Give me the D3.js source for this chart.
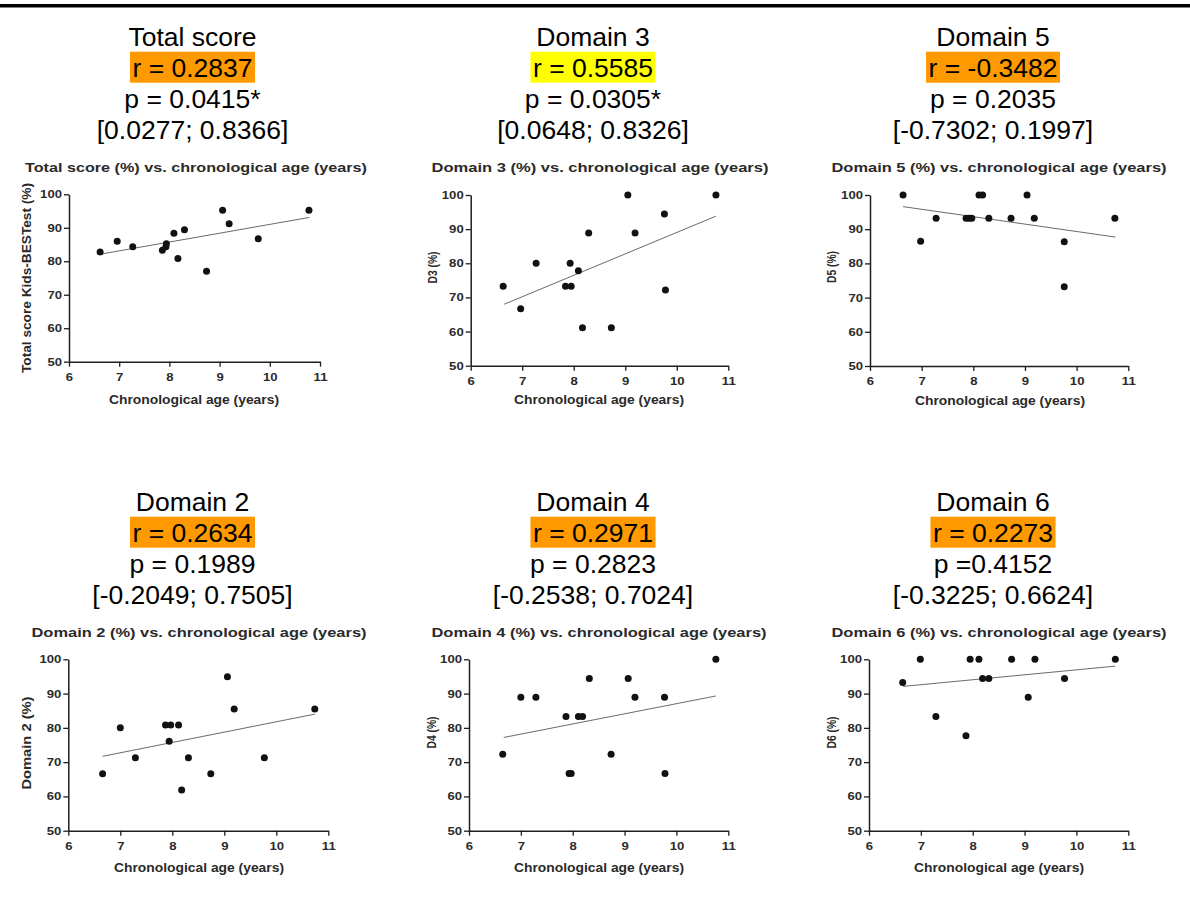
<!DOCTYPE html>
<html>
<head>
<meta charset="utf-8">
<script src="https://cdn.jsdelivr.net/npm/d3@7"></script>
<style>
  html, body { margin: 0; padding: 0; background: #fff; }
  svg { display: block; }
</style>
</head>
<body>
<svg id="chart" width="1190" height="897"></svg>
<script>
// ---------------- DATA ----------------
const xTicks = [6, 7, 8, 9, 10, 11];
const yTicks = [50, 60, 70, 80, 90, 100];
const xLabel = "Chronological age (years)";

const panelNames = ["Total score", "Domain 3", "Domain 5", "Domain 2", "Domain 4", "Domain 6"];
const rTexts = ["r = 0.2837", "r = 0.5585", "r = -0.3482", "r = 0.2634", "r = 0.2971", "r = 0.2273"];
const pTexts = ["p = 0.0415*", "p = 0.0305*", "p = 0.2035", "p = 0.1989", "p = 0.2823", "p =0.4152"];
const ciTexts = ["[0.0277; 0.8366]", "[0.0648; 0.8326]", "[-0.7302; 0.1997]",
                 "[-0.2049; 0.7505]", "[-0.2538; 0.7024]", "[-0.3225; 0.6624]"];
const highlightKinds = ["orange", "yellow", "orange", "orange", "orange", "orange"];
const plotTitles = ["Total score (%) vs. chronological age (years)",
                    "Domain 3 (%) vs. chronological age (years)",
                    "Domain 5 (%) vs. chronological age (years)",
                    "Domain 2 (%) vs. chronological age (years)",
                    "Domain 4 (%) vs. chronological age (years)",
                    "Domain 6 (%) vs. chronological age (years)"];
const yLabels = ["Total score Kids-BESTest (%)", "D3 (%)", "D5 (%)", "Domain 2 (%)", "D4 (%)", "D6 (%)"];

const totalAges = [6.62, 6.96, 7.27, 7.86, 7.93, 7.94, 8.09, 8.17, 8.30, 8.74, 9.06, 9.19, 9.77, 10.78];
const totalVals = [82.8, 86.0, 84.3, 83.3, 84.3, 85.2, 88.4, 80.8, 89.4, 77.0, 95.2, 91.2, 86.7, 95.2];
const totalFit  = [[6.62, 82.1], [10.79, 93.1]];

const d3Ages = [6.63, 6.97, 7.27, 7.84, 7.95, 7.93, 8.09, 8.17, 8.29, 8.73, 9.05, 9.19, 9.76, 9.78, 10.76];
const d3Vals = [73.3, 66.7, 80.0, 73.3, 73.3, 80.0, 77.8, 61.1, 88.9, 61.1, 100, 88.9, 94.4, 72.2, 100];
const d3Fit  = [[6.65, 68.0], [10.76, 93.8]];

const d5Ages = [6.64, 6.98, 7.28, 7.86, 7.92, 7.97, 8.11, 8.18, 8.30, 8.73, 9.04, 9.18, 9.76, 9.76, 10.74];
const d5Vals = [100, 86.5, 93.2, 93.2, 93.2, 93.2, 100, 100, 93.2, 93.2, 100, 93.2, 86.3, 73.2, 93.2];
const d5Fit  = [[6.64, 96.6], [10.75, 87.7]];

const d2Ages = [6.66, 7.00, 7.29, 7.87, 7.97, 7.94, 8.12, 8.18, 8.31, 8.74, 9.06, 9.19, 9.77, 10.74];
const d2Vals = [66.6, 80.0, 71.3, 80.8, 80.8, 76.1, 80.8, 61.9, 71.3, 66.6, 94.9, 85.5, 71.3, 85.5];
const d2Fit  = [[6.66, 71.7], [10.74, 84.0]];

const d4Ages = [6.65, 7.00, 7.29, 7.87, 7.93, 7.97, 8.11, 8.19, 8.32, 8.74, 9.07, 9.20, 9.77, 9.78, 10.76];
const d4Vals = [72.3, 88.9, 88.9, 83.3, 66.7, 66.7, 83.3, 83.3, 94.4, 72.3, 94.4, 88.9, 88.9, 66.7, 100];
const d4Fit  = [[6.67, 77.2], [10.76, 89.3]];

const d6Ages = [6.65, 6.99, 7.29, 7.87, 7.95, 8.12, 8.19, 8.31, 8.75, 9.07, 9.20, 9.77, 10.75];
const d6Vals = [93.2, 100, 83.3, 77.7, 100, 100, 94.4, 94.4, 100, 88.9, 100, 94.4, 100];
const d6Fit  = [[6.66, 92.1], [10.75, 98.0]];

const agesList = [totalAges, d3Ages, d5Ages, d2Ages, d4Ages, d6Ages];
const valsList = [totalVals, d3Vals, d5Vals, d2Vals, d4Vals, d6Vals];
const fitList  = [totalFit, d3Fit, d5Fit, d2Fit, d4Fit, d6Fit];

// ---------------- LAYOUT ----------------
const highlightColors = { orange: "#FF9900", yellow: "#FFFF00" };
const headerCX = [192.5, 593, 993, 192.5, 593, 993];
const headerTop = [45.7, 45.7, 45.7, 510.7, 510.7, 510.7]; // first baseline
const lineGap = 31;
// frames: x0 (age 6), x1 (age 11), yTop (100), yBot (50)
const frames = [
  { x0: 69,    x1: 320,   yT: 194.3, yB: 361.7 },
  { x0: 470.7, x1: 728.3, yT: 195,   yB: 365.7 },
  { x0: 870,   x1: 1128.3,yT: 195,   yB: 366 },
  { x0: 68.3,  x1: 328.3, yT: 659.3, yB: 830.7 },
  { x0: 469,   x1: 728.3, yT: 659.3, yB: 830.7 },
  { x0: 869,   x1: 1128.3,yT: 659.3, yB: 830.7 }
];
const titlePos = [ [196, 171.5, 342], [600, 171.5, 337], [999, 171.5, 335],
                   [199, 636.5, 335], [599, 636.5, 335], [999, 636.5, 335] ];
const xLabPos  = [ [194, 403.5], [599, 403.5], [1000, 405], [199, 872], [599, 872], [999, 872] ];
const yLabPos  = [ [27, 278, 190], [433, 267.5, 32], [832, 267, 32],
                   [27, 743, 93], [432, 732.5, 32], [832, 732.5, 32] ];

const FONT = "'Liberation Sans', Arial, Helvetica, sans-serif";
const svg = d3.select("#chart");

// top rule
svg.append("rect").attr("x", 0).attr("y", 4).attr("width", 1190).attr("height", 3.5).attr("fill", "#000");

panelNames.forEach((name, i) => {
  // ---------- header block ----------
  const hg = svg.append("g").attr("transform", `translate(${headerCX[i]},0)`)
    .style("font-family", FONT).style("font-size", "26.5px").attr("fill", "#000");
  const lines = [name, rTexts[i], pTexts[i], ciTexts[i]];
  lines.forEach((t, j) => {
    const y = headerTop[i] + j * lineGap;
    if (j === 1) {
      const tmp = hg.append("text").attr("text-anchor", "middle").attr("y", y).text(t);
      const w = tmp.node().getComputedTextLength();
      tmp.remove();
      hg.append("rect").attr("x", -w / 2 - 2.5).attr("y", y - 25).attr("width", w + 5).attr("height", 31)
        .attr("fill", highlightColors[highlightKinds[i]]);
    }
    hg.append("text").attr("text-anchor", "middle").attr("y", y).text(t);
  });

  // ---------- plot ----------
  const f = frames[i];
  const x = d3.scaleLinear().domain([6, 11]).range([f.x0, f.x1]);
  const y = d3.scaleLinear().domain([50, 100]).range([f.yB, f.yT]);
  const g = svg.append("g").style("font-family", FONT);
  const ink = "#1e1e1e";

  // title
  const [tcx, tby, tlen] = titlePos[i];
  g.append("text").attr("x", tcx - tlen / 2).attr("y", tby)
    .attr("textLength", tlen).attr("lengthAdjust", "spacingAndGlyphs")
    .style("font-size", "13px").style("font-weight", "bold").attr("fill", "#2a2a2a")
    .text(plotTitles[i]);

  // x label
  const [xcx, xby] = xLabPos[i];
  g.append("text").attr("x", xcx - 85).attr("y", xby)
    .attr("textLength", 170).attr("lengthAdjust", "spacingAndGlyphs")
    .style("font-size", "12px").style("font-weight", "bold").attr("fill", "#2a2a2a")
    .text(xLabel);

  // y label
  const [ycx, ycy, ylen] = yLabPos[i];
  g.append("text").attr("transform", `translate(${ycx + 4},${ycy}) rotate(-90)`)
    .attr("x", -ylen / 2).attr("y", 0)
    .attr("textLength", ylen).attr("lengthAdjust", "spacingAndGlyphs")
    .style("font-size", "12px").style("font-weight", "bold").attr("fill", "#2a2a2a")
    .text(yLabels[i]);

  // axes
  const xAxis = g.append("g").attr("transform", `translate(0,${f.yB})`)
    .call(d3.axisBottom(x).tickValues(xTicks).tickSize(5).tickSizeOuter(0).tickFormat(d3.format("d")));
  const yAxis = g.append("g").attr("transform", `translate(${f.x0},0)`)
    .call(d3.axisLeft(y).tickValues(yTicks).tickSize(5).tickSizeOuter(0).tickFormat(d3.format("d")));
  [xAxis, yAxis].forEach(a => {
    a.select(".domain").attr("stroke", ink).attr("stroke-width", 1.5);
    a.selectAll(".tick line").attr("stroke", ink).attr("stroke-width", 1.3);
    a.attr("font-family", null);
  });
  xAxis.selectAll(".tick text")
    .attr("y", 0).attr("dy", null)
    .attr("transform", "translate(0,19) scale(1.25,1)")
    .style("font-size", "10.5px").style("font-weight", "bold").attr("fill", "#2a2a2a");
  yAxis.selectAll(".tick text")
    .attr("x", 0).attr("dy", "0.34em")
    .attr("transform", "translate(-7,0) scale(1.25,1)")
    .style("font-size", "10.5px").style("font-weight", "bold").attr("fill", "#2a2a2a");

  // fit line
  const fit = fitList[i];
  g.append("line")
    .attr("x1", x(fit[0][0])).attr("y1", y(fit[0][1]))
    .attr("x2", x(fit[1][0])).attr("y2", y(fit[1][1]))
    .attr("stroke", "#6a6a6a").attr("stroke-width", 1);

  // points
  const pts = agesList[i].map((a, k) => ({ a, v: valsList[i][k] }));
  g.selectAll("circle.pt").data(pts).enter().append("circle")
    .attr("class", "pt")
    .attr("cx", d => x(d.a)).attr("cy", d => y(d.v))
    .attr("r", 3.5).attr("fill", "#111");
});
</script>
</body>
</html>
